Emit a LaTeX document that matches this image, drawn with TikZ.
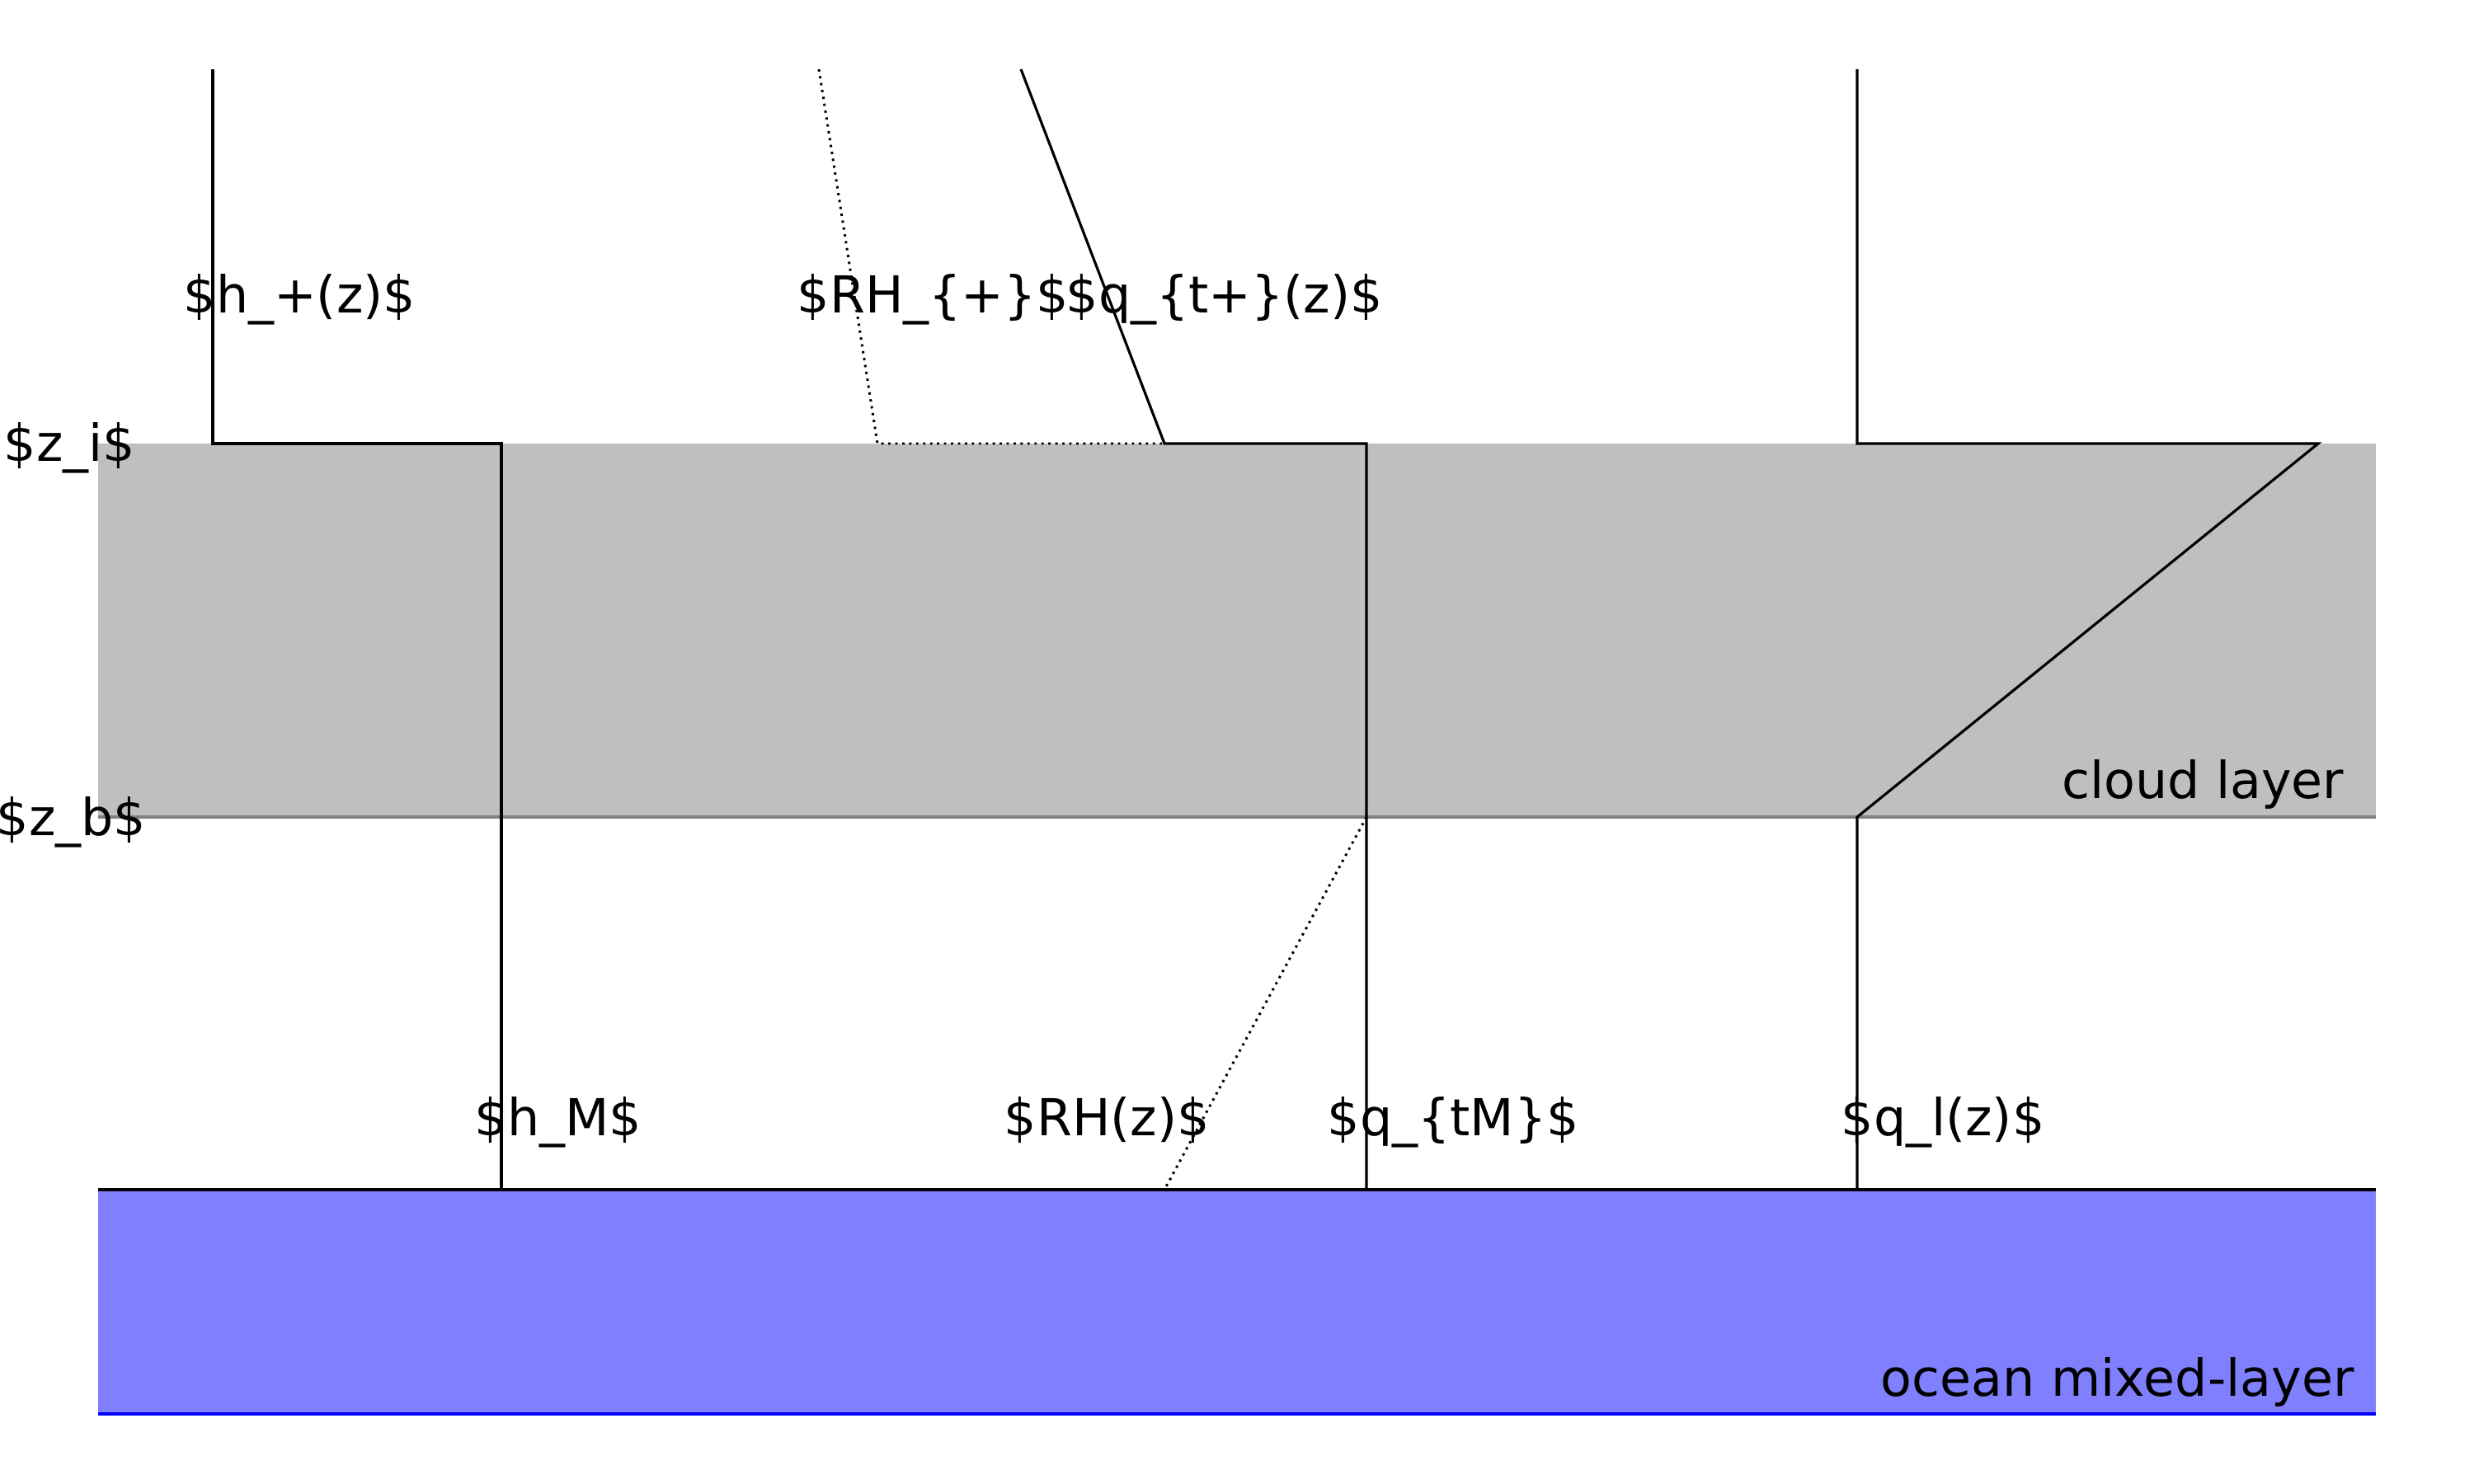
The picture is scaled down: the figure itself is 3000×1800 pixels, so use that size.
\documentclass[tikz,border=0pt]{standalone}
\usepackage{fontspec}
\setmainfont{DejaVu Sans}
\begin{document}
\begin{tikzpicture}[x=0.01cm,y=-0.01cm,
  prof/.style={line width=0.9pt, line join=miter, black},
  dotprof/.style={line width=0.85pt, black, dash pattern=on 0.8pt off 1.6pt},
  lbl/.style={anchor=base west, inner sep=0pt, font=\fontsize{17.58}{21}\selectfont},
  rlbl/.style={lbl, anchor=base east},
  cloudfill/.style={fill=black!25},
  oceanfill/.style={fill=blue!50}]
\useasboundingbox (0,0) rectangle (3000,1800);
% layers
\fill[cloudfill] (119,538) rectangle (2881,991);
\draw[black!50, line width=1pt] (119,991) -- (2881,991);
\fill[oceanfill] (119,1443) rectangle (2881,1715);
\draw[blue, line width=1pt] (119,1715) -- (2881,1715);
\draw[black, line width=0.9pt] (119,1443) -- (2881,1443);
% coordinates
\coordinate (hT) at (258,84);
\coordinate (hI) at (258,538);
\coordinate (hIr) at (608,538);
\coordinate (hS) at (608,1443);
\coordinate (rT) at (993,84);
\coordinate (rI) at (1064,538);
\coordinate (rIr) at (1412,538);
\coordinate (rB) at (1657,991);
\coordinate (rS) at (1412,1443);
\coordinate (qT) at (1238,84);
\coordinate (qI) at (1412,538);
\coordinate (qIr) at (1657,538);
\coordinate (qS) at (1657,1443);
\coordinate (lT) at (2252,84);
\coordinate (lI) at (2252,538);
\coordinate (lIr) at (2811,538);
\coordinate (lB) at (2252,991);
\coordinate (lS) at (2252,1443);
% profiles
\draw[prof] (hT) -- (hI) -- (hIr) -- (hS);
\draw[dotprof] (rT) -- (rI) -- (rIr);
\draw[dotprof] (rB) -- (rS);
\draw[prof] (qT) -- (qI) -- (qIr) -- (qS);
\draw[prof] (lT) -- (lI) -- (lIr) -- (lB) -- (lS);
% labels
\node[lbl] (lhp) at (222,379) {\$h\_+(z)\$};
\node[lbl] (lrhp) at (966,379) {\$RH\_\{+\}\$};
\node[lbl] (lqtp) at (1292,379) {\$q\_\{t+\}(z)\$};
\node[lbl] (lhm) at (575,1377) {\$h\_M\$};
\node[lbl] (lrh) at (1217,1377) {\$RH(z)\$};
\node[lbl] (lqtm) at (1609,1377) {\$q\_\{tM\}\$};
\node[lbl] (lql) at (2232,1377) {\$q\_l(z)\$};
\node[lbl] (lzi) at (4,559) {\$z\_i\$};
\node[lbl] (lzb) at (-5,1013) {\$z\_b\$};
\node[rlbl] (lcloud) at (2843,968) {cloud layer};
\node[rlbl] (locean) at (2855,1693) {ocean mixed-layer};
\end{tikzpicture}
\end{document}
